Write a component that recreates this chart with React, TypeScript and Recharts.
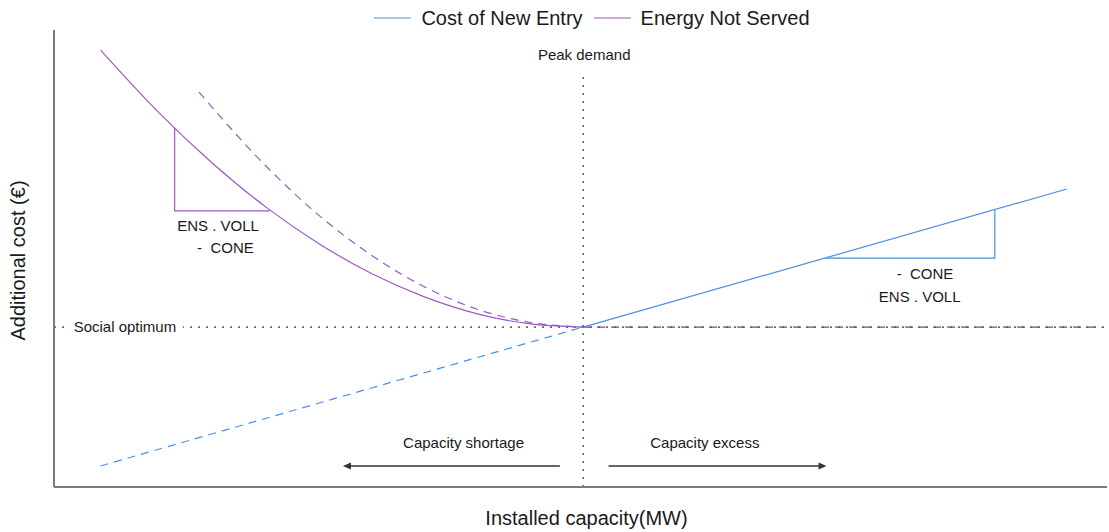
import { ComposedChart, Line, XAxis, YAxis, Legend, ReferenceLine, ReferenceDot, Label } from 'recharts'

const BLUE = '#4A90E2'
const PURPLE = '#9B59C6'
const INK = '#1a1a1a'
const FONT = '"Liberation Sans", Arial, Helvetica, sans-serif'

// installed capacity (arbitrary units) / additional cost (arbitrary units)
const ensCapacity = [4.4, 10, 15, 20, 25, 30, 35, 40, 45, 50]
const ensCost = [95.6, 81.7, 70.8, 61.3, 53.3, 46.7, 41.6, 37.9, 35.7, 35]

const ensShiftCapacity = [13.7, 20, 25, 30, 35, 40, 45, 50]
const ensShiftCost = [86.4, 70.3, 59.5, 50.7, 43.8, 38.9, 36.0, 35]

const coneCapacity = [50, 95.7]
const coneCost = [35, 65.2]
const coneDashCapacity = [4.4, 50]
const coneDashCost = [4.6, 35]

const ensFlatCapacity = [50, 99]
const ensFlatCost = [35, 35]

const ensTriCapacity = [11.4, 11.4, 20.4]
const ensTriCost = [78.6, 60.4, 60.4]
const coneTriCapacity = [72.9, 88.9, 88.9]
const coneTriCost = [50.1, 50.1, 60.6]

const PEAK = 50
const OPTIMUM = 35

const annotations = [
  { x: 15.5, y: 57.1, text: 'ENS . VOLL' },
  { x: 16.2, y: 52.3, text: '-\u00a0\u00a0CONE' },
  { x: 82.3, y: 46.6, text: '-\u00a0\u00a0CONE' },
  { x: 81.8, y: 41.6, text: 'ENS . VOLL' },
  { x: 50.1, y: 94.5, text: 'Peak demand' },
  { x: 38.7, y: 9.8, text: 'Capacity shortage' },
  { x: 61.5, y: 9.8, text: 'Capacity excess' },
]

const zip = (xs: number[], ys: number[]) => xs.map((x, i) => ({ x, y: ys[i] }))

const legendItems = [
  { name: 'Cost of New Entry', color: BLUE },
  { name: 'Energy Not Served', color: PURPLE },
]

function LegendContent() {
  return (
    <div
      style={{
        display: 'flex',
        justifyContent: 'center',
        alignItems: 'center',
        height: 24,
        paddingLeft: 86,
        boxSizing: 'border-box',
        fontFamily: FONT,
        fontSize: 20,
        color: INK,
      }}
    >
      {legendItems.map((item) => (
        <div key={item.name} style={{ display: 'flex', alignItems: 'center', marginRight: 11 }}>
          <svg width={37} height={4} style={{ marginRight: 10 }}>
            <line x1={0} y1={2} x2={37} y2={2} stroke={item.color} strokeWidth={1.1} />
          </svg>
          <span>{item.name}</span>
        </div>
      ))}
    </div>
  )
}

function Arrow(p: any) {
  const { x1, y1, x2, y2 } = p
  const dir = Math.sign(x2 - x1)
  return (
    <g>
      <line x1={x1} y1={y1} x2={x2 - dir * 6} y2={y2} stroke="#333" strokeWidth={1.3} />
      <polygon
        points={`${x2},${y2} ${x2 - dir * 8},${y2 - 3.5} ${x2 - dir * 8},${y2 + 3.5}`}
        fill="#333"
      />
    </g>
  )
}

export default function App() {
  const lineProps = {
    dataKey: 'y',
    dot: false,
    activeDot: false,
    isAnimationActive: false,
    legendType: 'none' as const,
    strokeWidth: 1.2,
  }
  return (
    <div style={{ position: 'absolute', left: 0, top: 0, fontFamily: FONT }}>
      <ComposedChart width={1109} height={532} margin={{ top: 6, right: 2, bottom: 0, left: 0 }}>
        <XAxis
          type="number"
          dataKey="x"
          domain={[0, 99.5]}
          tick={false}
          tickLine={false}
          axisLine={{ stroke: '#7a7a7a', strokeWidth: 2 }}
          height={45}
        >
          <Label
            content={({ viewBox }: any) => (
              <text
                x={viewBox.x + viewBox.width / 2 + 6}
                y={viewBox.y + 31}
                textAnchor="middle"
                dominantBaseline="central"
                fontSize={20}
                fill={INK}
              >
                Installed capacity(MW)
              </text>
            )}
          />
        </XAxis>
        <YAxis
          type="number"
          dataKey="y"
          domain={[0, 100]}
          tick={false}
          tickLine={false}
          axisLine={{ stroke: '#7a7a7a', strokeWidth: 2 }}
          width={54}
        >
          <Label
            content={({ viewBox }: any) => {
              const cx = viewBox.x + 18
              const cy = viewBox.y + viewBox.height / 2 + 2
              return (
                <text
                  x={cx}
                  y={cy}
                  transform={`rotate(-90 ${cx} ${cy})`}
                  textAnchor="middle"
                  dominantBaseline="central"
                  fontSize={20}
                  fill={INK}
                >
                  Additional cost (€)
                </text>
              )
            }}
          />
        </YAxis>
        <Legend verticalAlign="top" wrapperStyle={{ top: 6, left: 0, width: 1109 }} content={<LegendContent />} />

        <ReferenceLine y={OPTIMUM} stroke="#333" strokeDasharray="2 6" strokeWidth={1.2} />
        <ReferenceLine
          segment={[
            { x: PEAK, y: 0 },
            { x: PEAK, y: 91 },
          ]}
          stroke="#333"
          strokeDasharray="2 6"
          strokeWidth={1.2}
        />

        <Line {...lineProps} data={zip(coneDashCapacity, coneDashCost)} stroke={BLUE} strokeDasharray="8 6" />
        <Line {...lineProps} data={zip(ensShiftCapacity, ensShiftCost)} type="monotone" stroke={PURPLE} strokeDasharray="8 6" />
        <Line {...lineProps} data={zip(ensFlatCapacity, ensFlatCost)} stroke="#7d3c98" strokeDasharray="8 6" />
        <Line {...lineProps} data={zip(ensTriCapacity, ensTriCost)} stroke={PURPLE} />
        <Line {...lineProps} data={zip(coneTriCapacity, coneTriCost)} stroke={BLUE} />
        <Line {...lineProps} data={zip(coneCapacity, coneCost)} stroke={BLUE} legendType="plainline" name="Cost of New Entry" />
        <Line {...lineProps} data={zip(ensCapacity, ensCost)} type="monotone" stroke={PURPLE} legendType="plainline" name="Energy Not Served" />

        <ReferenceLine
          segment={[
            { x: 47.8, y: 4.6 },
            { x: 27.3, y: 4.6 },
          ]}
          shape={Arrow}
        />
        <ReferenceLine
          segment={[
            { x: 52.4, y: 4.6 },
            { x: 73.0, y: 4.6 },
          ]}
          shape={Arrow}
        />

        <ReferenceDot
          x={6.7}
          y={OPTIMUM}
          r={0}
          shape={(p: any) => <rect x={p.cx - 58} y={p.cy - 10} width={116} height={20} fill="#fff" />}
          label={{ value: 'Social optimum', position: 'center', fontSize: 15, fill: INK }}
        />
        {annotations.map((a) => (
          <ReferenceDot
            key={a.text + a.x}
            x={a.x}
            y={a.y}
            r={0}
            stroke="none"
            label={{ value: a.text, position: 'center', fontSize: 15, fill: INK }}
          />
        ))}
      </ComposedChart>
    </div>
  )
}
